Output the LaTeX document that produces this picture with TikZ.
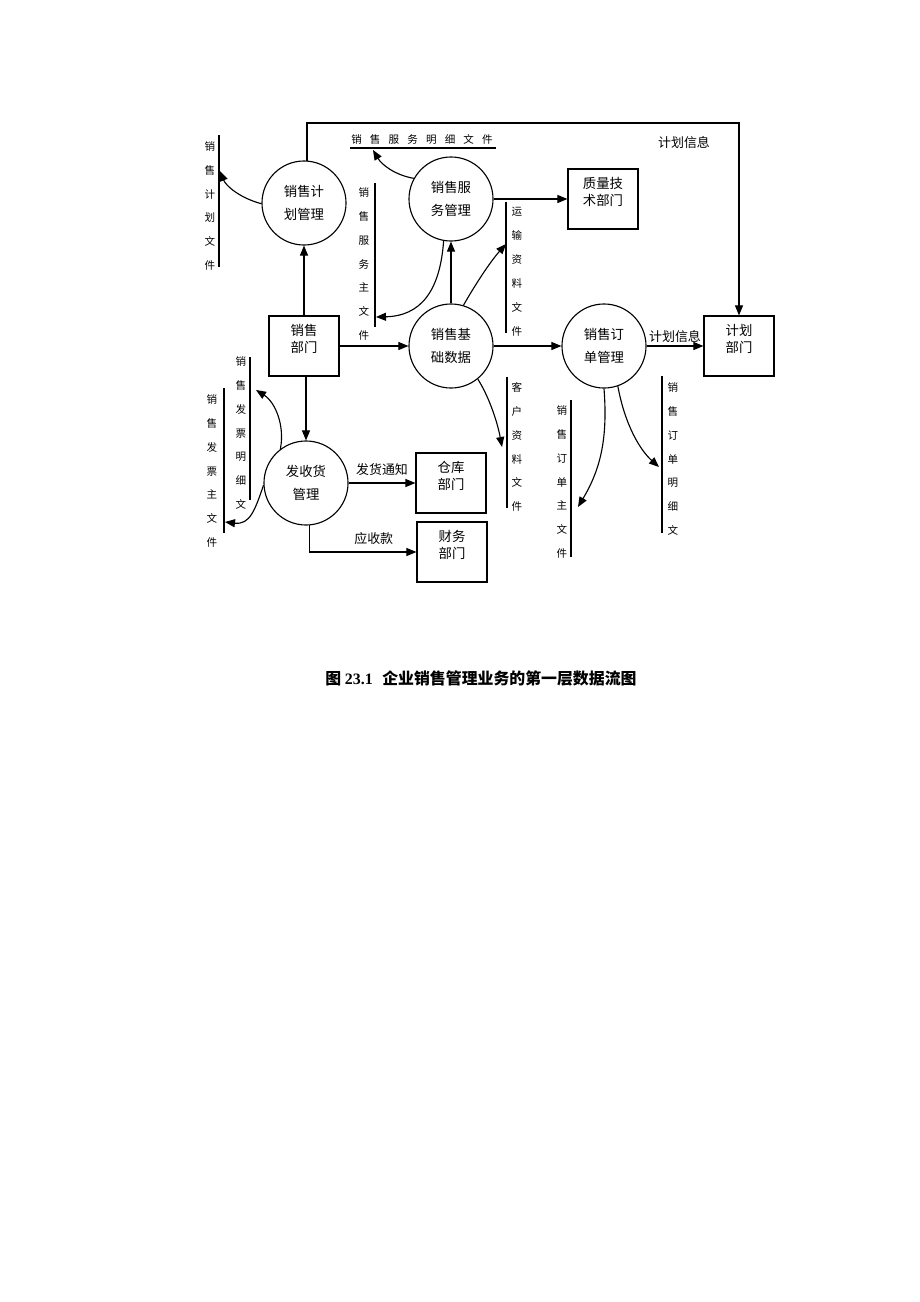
\documentclass[tikz,border=0pt]{standalone}
\usepackage{fontspec}
\setmainfont{Noto Sans CJK SC}
\newfontfamily\capfont{Liberation Serif}
\usetikzlibrary{arrows.meta}

\tikzset{
  proc/.style={draw, circle, minimum size=2.1cm, inner sep=0pt, align=center,
    font=\fontsize{9.5}{16}\selectfont},
  unit/.style={draw, minimum width=1.75cm, minimum height=1.5cm, align=center,
    text depth=0.38cm, font=\fontsize{9.5}{12}\selectfont},
  vtext/.style={font=\fontsize{7.5}{17}\selectfont, align=center, inner sep=0pt},
  lbl/.style={font=\fontsize{9.2}{11}\selectfont, inner sep=1pt},
  flow/.style={-{Triangle[length=2.5mm,width=2mm]}},
}

\begin{document}
\begin{tikzpicture}[x=0.025cm, y=-0.025cm, line width=0.8pt]
    \useasboundingbox (0,0) rectangle (920,1302);

    \node[proc] (plan) at (304,203) {销售计\\划管理};
    \node[proc] (serv) at (451,199) {销售服\\务管理};
    \node[proc] (base) at (451,346) {销售基\\础数据};
    \node[proc] (order) at (604,346) {销售订\\单管理};
    \node[proc] (ship) at (306,483) {发收货\\管理};

    \node[unit] (dept) at (304,346) {销售\\部门};
    \node[unit] (qual) at (603,199) {质量技\\术部门};
    \node[unit] (pdept) at (739,346) {计划\\部门};
    \node[unit] (store) at (451,483) {仓库\\部门};
    \node[unit] (fin) at (452,552) {财务\\部门};

    \node[vtext] (pfile) at (210,206) {销\\售\\计\\划\\文\\件};
    \draw (219,135) -- (219,267);
    \node[vtext] (smfile) at (364,264) {销\\售\\服\\务\\主\\文\\件};
    \draw (375,183) -- (375,327);
    \node[vtext] (tfile) at (517,272) {运\\输\\资\\料\\文\\件};
    \draw (506,202) -- (506,333);
    \node[vtext] (idfile) at (241,433) {销\\售\\发\\票\\明\\细\\文};
    \draw (250,357) -- (250,500);
    \node[vtext] (imfile) at (212,471) {销\\售\\发\\票\\主\\文\\件};
    \draw (224,388) -- (224,533);
    \node[vtext] (cfile) at (517,447) {客\\户\\资\\料\\文\\件};
    \draw (507,377) -- (507,508);
    \node[vtext] (ofile) at (562,482) {销\\售\\订\\单\\主\\文\\件};
    \draw (571,400) -- (571,557);
    \node[vtext] (odfile) at (673,459) {销\\售\\订\\单\\明\\细\\文};
    \draw (662,376) -- (662,533);
    \node[vtext] (sdfile) at (422,139) {销\hspace{5.8pt}售\hspace{5.8pt}服\hspace{5.8pt}务\hspace{5.8pt}明\hspace{5.8pt}细\hspace{5.8pt}文\hspace{5.8pt}件};
    \draw (350,148) -- (496,148);

    \coordinate (pfin) at (220,171);
    \coordinate (sdin) at (373,150);
    \coordinate (smin) at (376,317);
    \coordinate (tin) at (506,244);
    \coordinate (cin) at (502,447);
    \coordinate (oin) at (578,507);
    \coordinate (odin) at (659,467);
    \coordinate (idin) at (256,390);
    \coordinate (imin) at (225,522);

    \draw[flow] (dept) -- (plan);
    \draw[flow] (plan.86) -- (plan.86 |- 0,123) -| (pdept.north);
    \node[lbl] (pinfo1) at (684,143) {计划信息};
    \draw[flow] (serv) -- (qual);
    \draw[flow] (base) -- (serv);
    \draw[flow] (dept) -- (base);
    \draw[flow] (base) -- (order);
    \draw[flow] (order) -- node[lbl, above=1pt] (pinfo2) {计划信息} (pdept);
    \draw[flow] (dept.south -| ship.north) -- (ship.north);
    \draw[flow] (ship) -- node[lbl, above=4pt] (notice) {发货通知} (store);
    \draw[flow] (ship.-85) |- node[lbl, pos=0.8, above=4pt] (recv) {应收款} (fin.west);

    \draw[flow] (plan.181) .. controls (240,198) and (226,186) .. (pfin);
    \draw[flow] (serv.151) .. controls (395,175) and (382,165) .. (sdin);
    \draw[flow] (serv.260) .. controls (440,292) and (420,316) .. (smin);
    \draw[flow] (base.73) .. controls (475,285) and (490,262) .. (tin);
    \draw[flow] (base.-51) .. controls (488,395) and (497,420) .. (cin);
    \draw[flow] (order.south) .. controls (608,440) and (600,470) .. (oin);
    \draw[flow] (order.-71) .. controls (625,425) and (640,450) .. (odin);
    \draw[flow] (ship.127) .. controls (285,425) and (275,402) .. (idin);
    \draw[flow] (ship.183) .. controls (255,510) and (250,525) .. (imin);

    \node[font=\fontsize{11.3}{13}\selectfont\bfseries] (cap) at (481,678)
        {图 {\capfont 23.1}\hspace{0.6em}企业销售管理业务的第一层数据流图};
\end{tikzpicture}
\end{document}
